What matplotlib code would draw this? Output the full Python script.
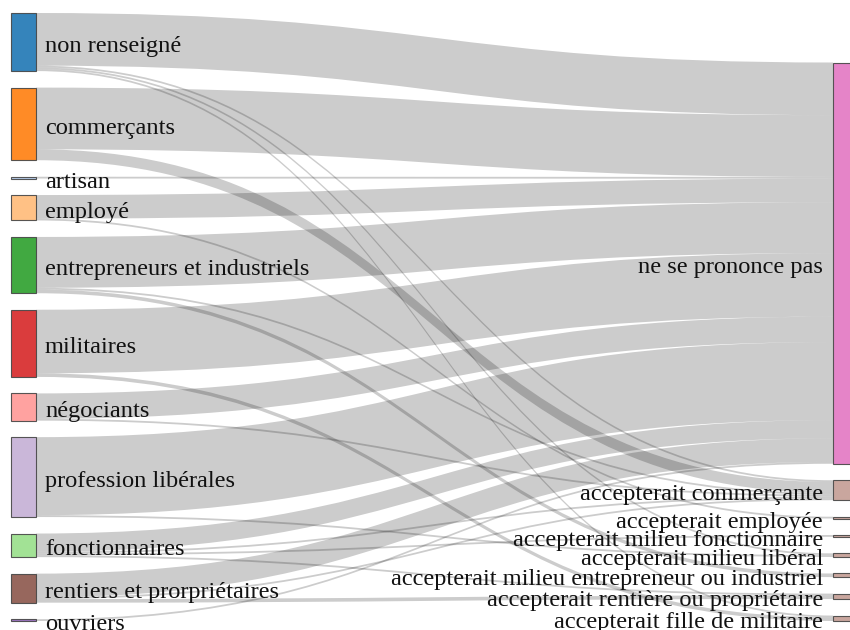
import matplotlib
matplotlib.use("Agg")
import matplotlib.pyplot as plt
from matplotlib.path import Path
from matplotlib.patches import PathPatch, Rectangle

# ---------------- data ----------------
left_labels = ["non renseigné", "commerçants", "artisan", "employé",
               "entrepreneurs et industriels", "militaires", "négociants",
               "profession libérales", "fonctionnaires",
               "rentiers et prorpriétaires", "ouvriers"]
right_labels = ["ne se prononce pas", "accepterait commerçante",
                "accepterait employée", "accepterait milieu fonctionnaire",
                "accepterait milieu libéral",
                "accepterait milieu entrepreneur ou industriel",
                "accepterait rentière ou propriétaire",
                "accepterait fille de militaire"]
left_colors = ["#1f77b4", "#ff7f0e", "#aec7e8", "#ffbb78", "#2ca02c", "#d62728",
               "#ff9896", "#c5b0d5", "#98df8a", "#8c564b", "#9467bd"]
right_colors = ["#e377c2"] + ["#c49c94"] * 7

link_source = [0, 0, 0, 0, 1, 1, 2, 3, 3, 4, 4, 4, 5, 5, 6, 6, 7, 7,
               8, 8, 8, 8, 9, 9, 9, 10]
link_target = [0, 1, 4, 7, 0, 1, 0, 0, 2, 0, 1, 5, 0, 7, 0, 1, 0, 4,
               0, 1, 3, 6, 0, 1, 6, 0]
link_value = [29, 1, 1, 1, 34, 6, 1, 13, 1, 28, 1, 2, 35, 2, 14, 1, 43, 1,
              10, 1, 1, 1, 13, 1, 2, 1]

# ---------------- layout ----------------
W, H = 850, 630
TOP, BOTTOM = 13, 621
PAD = 16.5
NODE_W = 25
LX0, RX0 = 11, 833
TEXT_DY = 2

nL, nR = len(left_labels), len(right_labels)
left_tot = [0] * nL
right_tot = [0] * nR
for s, t, v in zip(link_source, link_target, link_value):
    left_tot[s] += v
    right_tot[t] += v

k = min((BOTTOM - TOP - (nL - 1) * PAD) / sum(left_tot),
        (BOTTOM - TOP - (nR - 1) * PAD) / sum(right_tot))

left_y = []
y = TOP
for v in left_tot:
    left_y.append(y)
    y += v * k + PAD
right_h = sum(right_tot) * k + (nR - 1) * PAD
right_y = []
y = BOTTOM - right_h
for v in right_tot:
    right_y.append(y)
    y += v * k + PAD

fig = plt.figure(figsize=(W / 100, H / 100), dpi=100)
ax = fig.add_axes([0, 0, 1, 1])
ax.set_xlim(0, W)
ax.set_ylim(H, 0)
ax.axis("off")

# links
order = sorted(range(len(link_value)), key=lambda i: (link_source[i], link_target[i]))
src_off = list(left_y)
tgt_off = list(right_y)
in_order = sorted(range(len(link_value)), key=lambda i: (link_target[i], link_source[i]))
tpos = {}
for i in in_order:
    t = link_target[i]
    tpos[i] = tgt_off[t]
    tgt_off[t] += link_value[i] * k
x0 = LX0 + NODE_W
x1 = RX0
xm = (x0 + x1) / 2
for i in order:
    s = link_source[i]
    h = link_value[i] * k
    ys = src_off[s]
    src_off[s] += h
    yt = tpos[i]
    verts = [(x0, ys), (xm, ys), (xm, yt), (x1, yt),
             (x1, yt + h),
             (xm, yt + h), (xm, ys + h), (x0, ys + h),
             (x0, ys)]
    codes = [Path.MOVETO, Path.CURVE4, Path.CURVE4, Path.CURVE4,
             Path.LINETO,
             Path.CURVE4, Path.CURVE4, Path.CURVE4,
             Path.CLOSEPOLY]
    ax.add_patch(PathPatch(Path(verts, codes), facecolor=(0, 0, 0, 0.2),
                           edgecolor="none", zorder=1))

# nodes
edge = (0.27, 0.27, 0.27, 0.6)
for i in range(nL):
    ax.add_patch(Rectangle((LX0, left_y[i]), NODE_W, left_tot[i] * k,
                           facecolor=left_colors[i], alpha=0.9, edgecolor=edge,
                           linewidth=0.8, zorder=2))
for i in range(nR):
    ax.add_patch(Rectangle((RX0, right_y[i]), NODE_W, right_tot[i] * k,
                           facecolor=right_colors[i], alpha=0.9, edgecolor=edge,
                           linewidth=0.8, zorder=2))

# labels
font = dict(family="Liberation Serif", size=17.6, color="#111111")
for i in range(nL):
    ax.text(LX0 + NODE_W + 9, left_y[i] + left_tot[i] * k / 2 + TEXT_DY,
            left_labels[i], ha="left", va="center_baseline", zorder=3, **font)
for i in range(nR):
    ax.text(RX0 - 10, right_y[i] + right_tot[i] * k / 2 + TEXT_DY,
            right_labels[i], ha="right", va="center_baseline", zorder=3, **font)

fig.savefig("out.png", dpi=100, facecolor="white")
